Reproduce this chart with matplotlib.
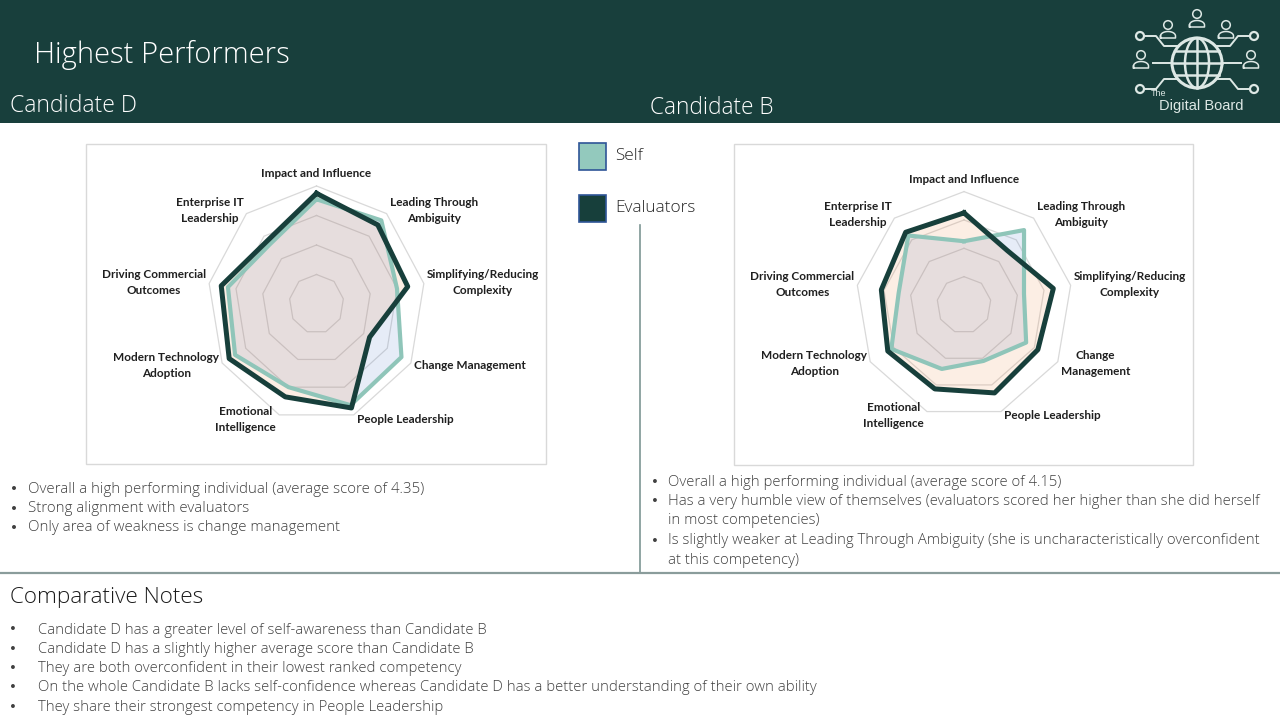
import numpy as np
import matplotlib
matplotlib.use("Agg")
import matplotlib.pyplot as plt
from matplotlib.patches import Rectangle, Circle, Ellipse
from matplotlib import font_manager as fm

# ---------------- data ----------------
categories_d = ["Impact and Influence", "Leading Through\nAmbiguity",
                "Simplifying/Reducing\nComplexity", "Change Management",
                "People Leadership", "Emotional\nIntelligence",
                "Modern Technology\nAdoption", "Driving Commercial\nOutcomes",
                "Enterprise IT\nLeadership"]
categories_b = ["Impact and Influence", "Leading Through\nAmbiguity",
                "Simplifying/Reducing\nComplexity", "Change\nManagement",
                "People Leadership", "Emotional\nIntelligence",
                "Modern Technology\nAdoption", "Driving Commercial\nOutcomes",
                "Enterprise IT\nLeadership"]
d_self = [4.55, 4.70, 4.00, 4.60, 4.65, 4.00, 4.45, 4.30, 3.65]
d_eval = [4.75, 4.50, 4.40, 3.25, 4.75, 4.35, 4.70, 4.55, 3.80]
b_self = [3.25, 4.45, 3.25, 3.65, 3.10, 3.40, 4.10, 3.45, 4.20]
b_eval = [4.25, 3.50, 4.35, 4.15, 4.30, 4.15, 4.25, 4.10, 4.35]
ring_levels = [2, 3, 4, 5]
r_min, r_max = 1, 5
series_names = ["Self", "Evaluators"]

title = "Highest Performers"
cand_left = "Candidate D"
cand_right = "Candidate B"
notes_d = ["Overall a high performing individual (average score of 4.35)",
           "Strong alignment with evaluators",
           "Only area of weakness is change management"]
notes_b = ["Overall a high performing individual (average score of 4.15)",
           "Has a very humble view of themselves (evaluators scored her higher than she did herself\nin most competencies)",
           "Is slightly weaker at Leading Through Ambiguity (she is uncharacteristically overconfident\nat this competency)"]
comp_title = "Comparative Notes"
comp_notes = ["Candidate D has a greater level of self-awareness than Candidate B",
              "Candidate D has a slightly higher average score than Candidate B",
              "They are both overconfident in their lowest ranked competency",
              "On the whole Candidate B lacks self-confidence whereas Candidate D has a better understanding of their own ability",
              "They share their strongest competency in People Leadership"]

# ---------------- style ----------------
HEADER = "#183f3c"
SELF_LINE = "#8fc5b9"
EVAL_LINE = "#173f3b"
TEXT = "#404040"
names = {f.name for f in fm.fontManager.ttflist}
BODY_FONT = "Open Sans" if "Open Sans" in names else "DejaVu Sans"
LABEL_FONT = "Lato" if "Lato" in names else "DejaVu Sans"

W, H = 1280, 720
fig = plt.figure(figsize=(12.8, 7.2), dpi=100)
bg = fig.add_axes([0, 0, 1, 1])
bg.set_xlim(0, W)
bg.set_ylim(H, 0)
bg.axis("off")
bg.set_zorder(0)

# header band
bg.add_patch(Rectangle((0, 0), W, 123, facecolor=HEADER, edgecolor="none"))
bg.text(34, 55, title, color="white", fontsize=21, family=BODY_FONT,
        fontweight="light", va="center", ha="left")
bg.text(10, 106, cand_left, color="white", fontsize=16.5, family=BODY_FONT,
        fontweight="light", va="center", ha="left")
bg.text(650, 108, cand_right, color="white", fontsize=16.3, family=BODY_FONT,
        fontweight="light", va="center", ha="left")

# logo
LC = "#dde8e5"
def person(cx, cy):
    bg.add_patch(Circle((cx, cy), 4.3, facecolor="none", edgecolor=LC, lw=1.1))
    t = np.linspace(np.pi, 2 * np.pi, 30)
    xs = np.concatenate([[cx - 7.5], cx + 7.5 * np.cos(t), [cx + 7.5, cx - 7.5, cx - 7.5]])
    ys = np.concatenate([[cy + 13], cy + 11 + 4.5 * np.sin(t), [cy + 13, cy + 13, cy + 11]])
    bg.plot(xs, ys, color=LC, lw=1.1)

gx, gy, gr = 1197, 63, 25
bg.add_patch(Circle((gx, gy), gr, facecolor="none", edgecolor=LC, lw=2.2))
bg.add_patch(Ellipse((gx, gy), 24, 50, facecolor="none", edgecolor=LC, lw=1.8))
bg.plot([gx, gx], [gy - gr, gy + gr], color=LC, lw=1.8)
for dy in (-12, 0, 12):
    hw = np.sqrt(gr ** 2 - dy ** 2)
    bg.plot([gx - hw, gx + hw], [gy + dy, gy + dy], color=LC, lw=1.8)
for sgn in (-1, 1):
    cxs = gx + sgn * 57
    bg.add_patch(Circle((cxs, 36), 4, facecolor="none", edgecolor=LC, lw=1.6))
    bg.add_patch(Circle((cxs, 89), 4, facecolor="none", edgecolor=LC, lw=1.6))
    bg.plot([cxs - sgn * 4, gx + sgn * 41, gx + sgn * 33, gx + sgn * 20],
            [36, 36, 46, 46], color=LC, lw=1.4)
    bg.plot([cxs - sgn * 4, gx + sgn * 41, gx + sgn * 33, gx + sgn * 20],
            [89, 89, 79, 79], color=LC, lw=1.4)
    bg.plot([gx + sgn * 44, gx + sgn * 25], [63, 63], color=LC, lw=1.4)
person(1197, 14)
person(1168, 25)
person(1226, 25)
person(1141, 55)
person(1251, 55)
bg.text(1151, 93, "The", color=LC, fontsize=6.5, family="Liberation Sans", va="center")
bg.text(1159, 106, "Digital Board", color=LC, fontsize=10.5, family="Liberation Sans",
        va="center")

# chart boxes
bg.add_patch(Rectangle((86, 144), 460, 320, facecolor="white", edgecolor="#d9d9d9", lw=1))
bg.add_patch(Rectangle((734, 144), 459, 321, facecolor="white", edgecolor="#d9d9d9", lw=1))

# legend
for (y0, fc, name) in [(143, "#93c9bd", series_names[0]), (195, EVAL_LINE, series_names[1])]:
    bg.add_patch(Rectangle((579, y0), 27, 27, facecolor=fc, edgecolor="#2f5597", lw=1.2))
    bg.text(615, y0 + 13, name, color="#262626", fontsize=12.4, family=BODY_FONT,
            fontweight="light", va="center", ha="left")

# separators
bg.plot([640, 640], [225, 572], color="#7d9694", lw=1.2)
bg.plot([0, W], [573, 573], color="#8a9c9b", lw=1.6)

# bullet notes
def bullets(x_b, x_t, y_start, step, lines, fs, color):
    y = y_start
    for ln in lines:
        bg.text(x_b, y, "\u2022", color=color, fontsize=fs - 1, family="DejaVu Sans",
                va="center", ha="left")
        for p in ln.split("\n"):
            bg.text(x_t, y, p, color=color, fontsize=fs, family=BODY_FONT,
                    fontweight="light", va="center", ha="left")
            y += step

bullets(10, 28, 489.5, 19.2, notes_d, 10.8, TEXT)
bullets(651, 668, 482, 19.5, notes_b, 10.75, TEXT)
bg.text(10, 597, comp_title, color="#1a1a1a", fontsize=16.2, family=BODY_FONT,
        fontweight="light", va="center", ha="left")
bullets(9, 38, 630, 19.3, comp_notes, 10.7, TEXT)


# ---------------- radar charts ----------------
def radar(cx, cy, rx, ry, labels, self_vals, eval_vals):
    rect = [(cx - rx) / W, (H - cy - ry) / H, 2 * rx / W, 2 * ry / H]
    ax = fig.add_axes(rect, projection="polar")
    ax.set_aspect("auto")
    ax.set_zorder(2)
    ax.set_theta_zero_location("N")
    ax.set_theta_direction(-1)
    n = len(labels)
    ang = np.linspace(0, 2 * np.pi, n, endpoint=False)
    angc = np.append(ang, ang[0])
    ax.set_ylim(r_min, r_max)
    ax.grid(False)
    ax.set_xticks([])
    ax.set_yticks([])
    ax.spines["polar"].set_visible(False)
    ax.patch.set_visible(False)
    for lv in ring_levels:
        ax.plot(angc, [lv] * (n + 1), color="#d9d9d9", lw=0.9, zorder=1, clip_on=False)
    sv = np.append(self_vals, self_vals[0])
    ev = np.append(eval_vals, eval_vals[0])
    ax.fill(angc, sv, color="#4472c4", alpha=0.13, lw=0, zorder=2)
    ax.fill(angc, ev, color="#ed7d31", alpha=0.13, lw=0, zorder=3)
    ax.plot(angc, sv, color=SELF_LINE, lw=3.0, zorder=4, solid_joinstyle="round",
            clip_on=False)
    ax.plot(angc, ev, color=EVAL_LINE, lw=3.6, zorder=5, solid_joinstyle="round",
            clip_on=False)
    for a, lab in zip(ang, labels):
        s, c = np.sin(a), np.cos(a)
        if abs(s) < 0.1:
            ha, va, off = "center", "bottom", (0, 7)
        elif s > 0:
            ha, va, off = "left", "center", (3, 4.5 * c)
        else:
            ha, va, off = "right", "center", (-3, 4.5 * c)
        ax.annotate(lab, xy=(a, r_max), xytext=off, textcoords="offset pixels",
                    ha=ha, va=va, multialignment="center", fontsize=8.5,
                    fontweight="bold", family=LABEL_FONT, color="#1f1f1f",
                    annotation_clip=False, linespacing=1.55)
    return ax

radar(316.5, 304, 109, 118, categories_d, d_self, d_eval)
radar(964, 305, 108.3, 113.4, categories_b, b_self, b_eval)

fig.savefig("out.png", dpi=100)
